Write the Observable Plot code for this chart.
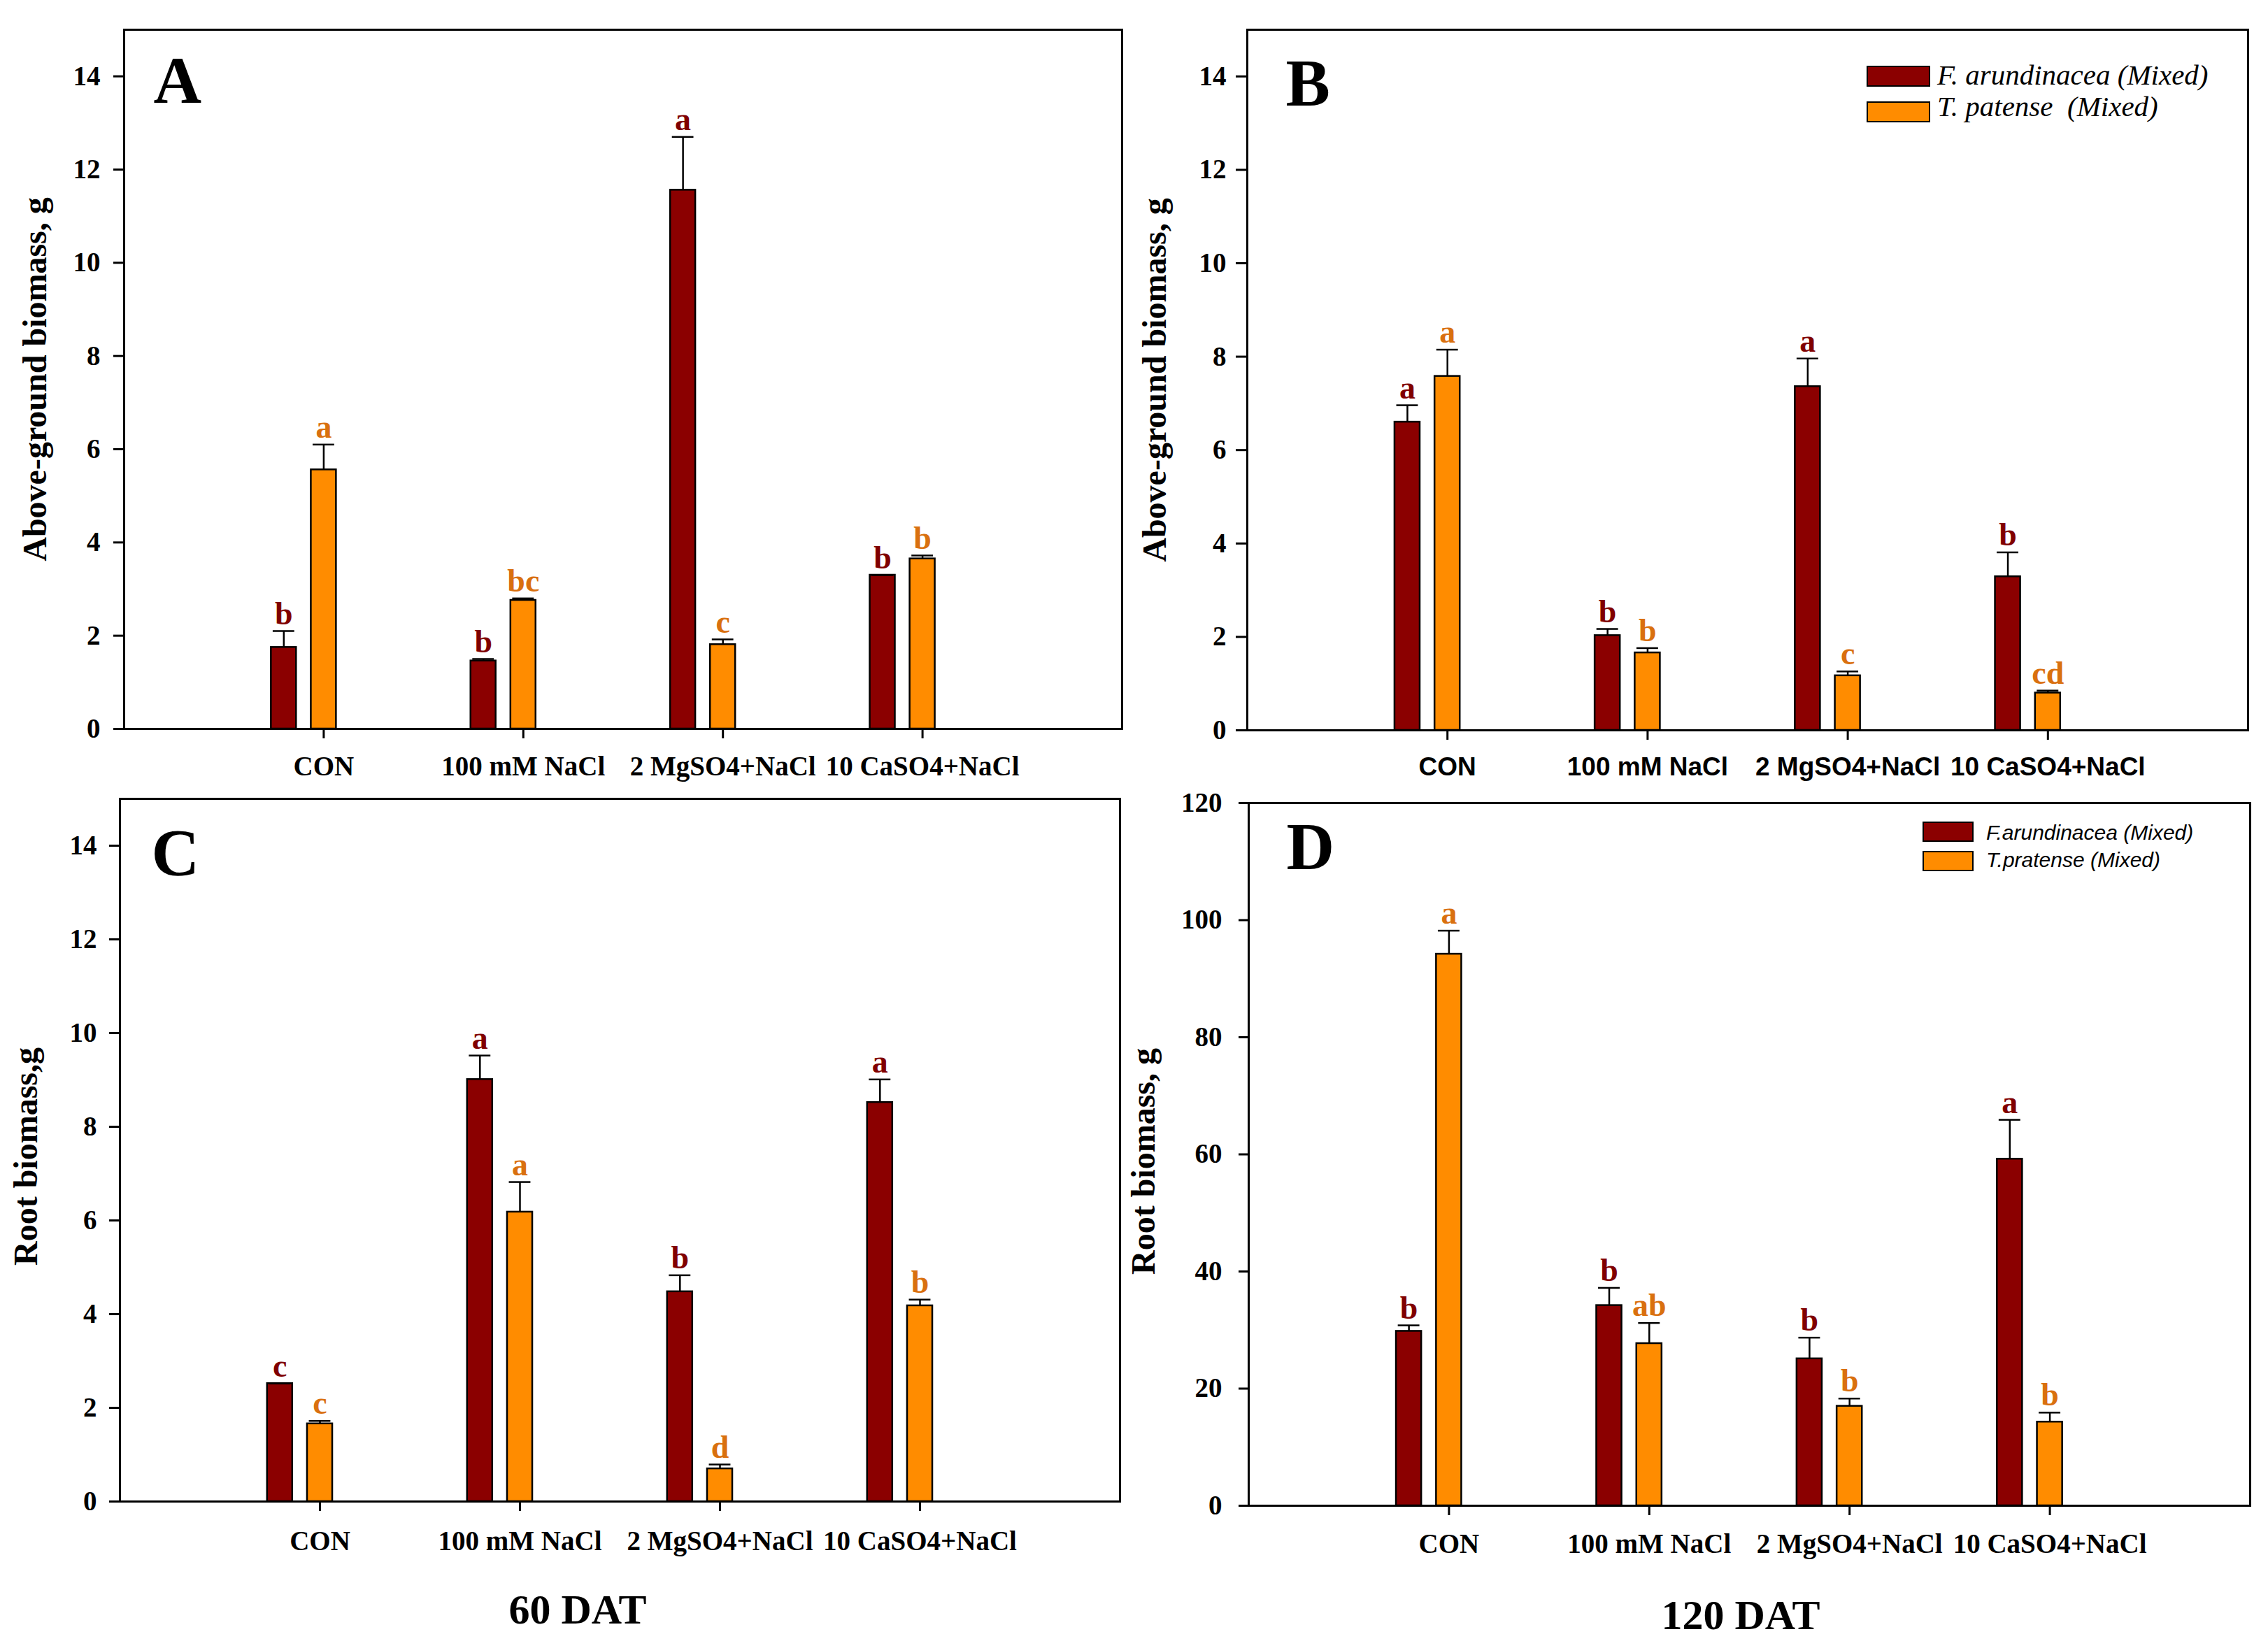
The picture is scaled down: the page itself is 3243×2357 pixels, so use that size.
<!DOCTYPE html>
<html>
<head>
<meta charset="utf-8">
<script src="https://cdn.jsdelivr.net/npm/d3@7"></script>
<script src="https://cdn.jsdelivr.net/npm/@observablehq/plot@0.6"></script>
<style>
html, body { margin: 0; padding: 0; background: #fff; }
#root { position: relative; width: 3243px; height: 2357px; overflow: hidden; background: #fff; }
.panel { position: absolute; }
.sw { position: absolute; box-sizing: border-box; border: 2.5px solid #000; }
.lt { position: absolute; white-space: pre; color: #000; }
.cap { position: absolute; width: 600px; text-align: center; font-family: 'Liberation Serif', 'Times New Roman', serif; font-weight: bold; font-size: 60px; line-height: 60px; color: #000; }
</style>
</head>
<body>
<div id="root"></div>
<script>
// ---------- data ----------
const categories = ["CON", "100 mM NaCl", "2 MgSO4+NaCl", "10 CaSO4+NaCl"];

// Panel A: Above-ground biomass, 60 DAT
const aFaMean = [1.75, 1.46, 11.56, 3.30];
const aFaTop  = [2.10, 1.50, 12.70, 3.30];
const aFaLet  = ["b", "b", "a", "b"];
const aTpMean = [5.56, 2.76, 1.81, 3.65];
const aTpTop  = [6.10, 2.80, 1.92, 3.72];
const aTpLet  = ["a", "bc", "c", "b"];

// Panel B: Above-ground biomass, 120 DAT
const bFaMean = [6.60, 2.03, 7.36, 3.29];
const bFaTop  = [6.96, 2.17, 7.96, 3.81];
const bFaLet  = ["a", "b", "a", "b"];
const bTpMean = [7.58, 1.66, 1.17, 0.80];
const bTpTop  = [8.15, 1.76, 1.26, 0.85];
const bTpLet  = ["a", "b", "c", "cd"];

// Panel C: Root biomass, 60 DAT
const cFaMean = [2.52, 9.01, 4.48, 8.52];
const cFaTop  = [2.52, 9.52, 4.83, 9.01];
const cFaLet  = ["c", "a", "b", "a"];
const cTpMean = [1.66, 6.18, 0.70, 4.18];
const cTpTop  = [1.72, 6.82, 0.79, 4.31];
const cTpLet  = ["c", "a", "d", "b"];

// Panel D: Root biomass, 120 DAT
const dFaMean = [29.8, 34.2, 25.1, 59.2];
const dFaTop  = [30.8, 37.2, 28.7, 65.9];
const dFaLet  = ["b", "b", "b", "a"];
const dTpMean = [94.2, 27.7, 17.0, 14.3];
const dTpTop  = [98.2, 31.2, 18.3, 15.9];
const dTpLet  = ["a", "ab", "b", "b"];

const ticks15  = [0, 2, 4, 6, 8, 10, 12, 14];
const ticks120 = [0, 20, 40, 60, 80, 100, 120];

// ---------- style ----------
const SERIF = "'Liberation Serif', 'Times New Roman', serif";
const SANS  = "'Liberation Sans', Arial, sans-serif";
const DARK = "#8B0000", ORANGE = "#FF8C00";
const DARK_TXT = "#800000", ORANGE_TXT = "#D9700F";
const BW = 0.126;     // bar width (x units)
const OFF = 0.2;      // F. arundinacea bar offset left of tick
const CAP = 0.054;    // half cap width

function rows(mean, top, lets, sp) {
  return categories.map((c, i) => ({
    cat: c, pos: i + 1 - (sp === 0 ? OFF : 0), value: mean[i], top: top[i], letter: lets[i], sp
  }));
}

function panel(o) {
  const fa = rows(o.faMean, o.faTop, o.faLet, 0);
  const tp = rows(o.tpMean, o.tpTop, o.tpLet, 1);
  const all = fa.concat(tp);
  const bars = (data, fill) => Plot.rectY(data, {
    x1: d => d.pos - BW / 2, x2: d => d.pos + BW / 2, y1: 0, y2: "value",
    fill, stroke: "#000", strokeWidth: 2.5
  });
  const letters = (data, fill) => Plot.text(data, {
    x: "pos", y: "top", text: "letter", dy: -10, lineAnchor: "bottom",
    fill, fontSize: 46, fontWeight: "bold", fontFamily: SERIF
  });
  return Plot.plot({
    width: o.width, height: o.height,
    marginLeft: o.ml, marginRight: o.mr, marginTop: o.mt, marginBottom: o.mb,
    x: { domain: [0, 5] },
    y: { domain: o.ydomain },
    style: { background: "transparent", overflow: "visible", color: "#000" },
    marks: [
      bars(fa, DARK),
      bars(tp, ORANGE),
      Plot.ruleX(all, { x: "pos", y1: "value", y2: "top", stroke: "#000", strokeWidth: 2.5 }),
      Plot.ruleY(all, { y: "top", x1: d => d.pos - CAP, x2: d => d.pos + CAP, stroke: "#000", strokeWidth: 2.5 }),
      letters(fa, DARK_TXT),
      letters(tp, ORANGE_TXT),
      Plot.frame({ stroke: "#000", strokeWidth: 3 }),
      Plot.axisY({
        ticks: o.yticks, tickSize: o.yTickSize, tickPadding: o.yTickPad, label: null,
        fontSize: 39, fontWeight: "bold", fontFamily: SERIF, strokeWidth: 3
      }),
      Plot.axisX({
        ticks: [1, 2, 3, 4], tickFormat: d => categories[d - 1], tickSize: 14,
        tickPadding: o.xTickPad, label: null,
        fontSize: o.xFontSize, fontWeight: "bold", fontFamily: o.xFont, strokeWidth: 3
      }),
      Plot.text([o.ytitle], {
        text: d => d, frameAnchor: "left", dx: o.titleDx, dy: o.titleDy || 0, rotate: -90,
        textAnchor: "middle", lineAnchor: "middle",
        fontSize: 48, fontWeight: "bold", fontFamily: SERIF, fill: "#000"
      }),
      Plot.text([o.letter], {
        text: d => d, frameAnchor: "top-left", dx: o.letterDx, dy: o.letterDy,
        textAnchor: "start", lineAnchor: "bottom",
        fontSize: 95, fontWeight: "bold", fontFamily: SERIF, fill: "#000"
      })
    ]
  });
}

const root = document.getElementById("root");
function place(el, left, top) {
  const w = document.createElement("div");
  w.className = "panel";
  w.style.left = left + "px";
  w.style.top = top + "px";
  w.appendChild(el);
  root.appendChild(w);
  return w;
}

place(panel({
  width: 1621, height: 1130, ml: 177, mr: 17, mt: 42, mb: 88,
  ydomain: [0, 15], yticks: ticks15, yTickSize: 15, yTickPad: 19,
  xTickPad: 25, xFontSize: 39, xFont: SERIF,
  ytitle: "Above-ground biomass, g", titleDx: -127,
  letter: "A", letterDx: 42, letterDy: 104,
  faMean: aFaMean, faTop: aFaTop, faLet: aFaLet, tpMean: aTpMean, tpTop: aTpTop, tpLet: aTpLet
}), 0, 0);

place(panel({
  width: 1622, height: 1130, ml: 162, mr: 29, mt: 42, mb: 86,
  ydomain: [0, 15], yticks: ticks15, yTickSize: 16, yTickPad: 14,
  xTickPad: 24, xFontSize: 37, xFont: SANS,
  ytitle: "Above-ground biomass, g", titleDx: -132,
  letter: "B", letterDx: 55, letterDy: 108,
  faMean: bFaMean, faTop: bFaTop, faLet: bFaLet, tpMean: bTpMean, tpTop: bTpTop, tpLet: bTpLet
}), 1621, 0);

place(panel({
  width: 1621, height: 1100, ml: 171, mr: 20, mt: 12, mb: 83,
  ydomain: [0, 15], yticks: ticks15, yTickSize: 15, yTickPad: 18,
  xTickPad: 28, xFontSize: 39, xFont: SERIF,
  ytitle: "Root biomass,g", titleDx: -134, titleDy: 9,
  letter: "C", letterDx: 45, letterDy: 109,
  faMean: cFaMean, faTop: cFaTop, faLet: cFaLet, tpMean: cTpMean, tpTop: cTpTop, tpLet: cTpLet
}), 0, 1130);

place(panel({
  width: 1622, height: 1100, ml: 164, mr: 26, mt: 18, mb: 77,
  ydomain: [0, 120], yticks: ticks120, yTickSize: 14, yTickPad: 24,
  xTickPad: 26, xFontSize: 39, xFont: SERIF,
  ytitle: "Root biomass, g", titleDx: -150, titleDy: 10,
  letter: "D", letterDx: 54, letterDy: 94,
  faMean: dFaMean, faTop: dFaTop, faLet: dFaLet, tpMean: dTpMean, tpTop: dTpTop, tpLet: dTpLet
}), 1621, 1130);

// ---------- legends ----------
function swatch(left, top, w, h, color) {
  const s = document.createElement("div");
  s.className = "sw";
  Object.assign(s.style, { left: left + "px", top: top + "px", width: w + "px", height: h + "px", background: color });
  root.appendChild(s);
}
function label(left, top, text, font, size) {
  const t = document.createElement("div");
  t.className = "lt";
  t.textContent = text;
  Object.assign(t.style, { left: left + "px", top: top + "px", fontFamily: font, fontSize: size + "px", lineHeight: size + "px", fontStyle: "italic" });
  root.appendChild(t);
}
const legendB = ["F. arundinacea (Mixed)", "T. patense  (Mixed)"];
const legendD = ["F.arundinacea (Mixed)", "T.pratense (Mixed)"];
swatch(2669, 94, 91, 30, DARK);
swatch(2669, 145, 91, 30, ORANGE);
label(2770, 87, legendB[0], SERIF, 41);
label(2770, 132, legendB[1], SERIF, 41);
swatch(2749, 1175, 73, 29, DARK);
swatch(2749, 1217, 73, 29, ORANGE);
label(2840, 1176, legendD[0], SANS, 30);
label(2840, 1215, legendD[1], SANS, 30);

// ---------- captions ----------
const captions = [["60 DAT", 826, 2272], ["120 DAT", 2489, 2280]];
for (const [txt, cx, top] of captions) {
  const c = document.createElement("div");
  c.className = "cap";
  c.textContent = txt;
  c.style.left = (cx - 300) + "px";
  c.style.top = top + "px";
  root.appendChild(c);
}
</script>
</body>
</html>
